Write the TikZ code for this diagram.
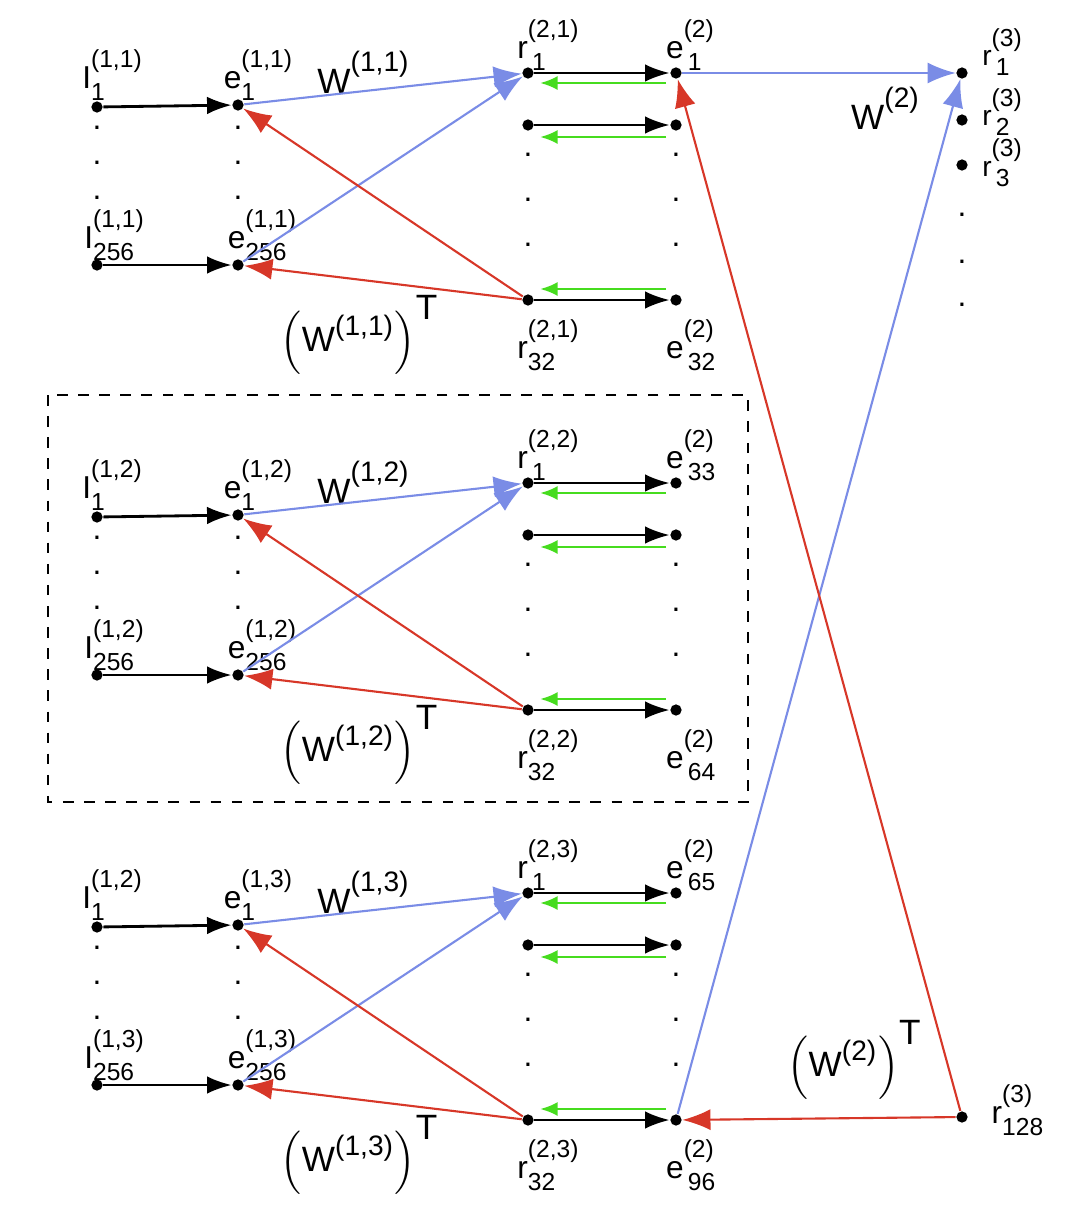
\documentclass[tikz,border=0pt]{standalone}
\usepackage{fontspec}
\setmainfont{Liberation Sans}
\usetikzlibrary{arrows.meta}
\definecolor{wblue}{RGB}{122,140,230}
\definecolor{wred}{RGB}{215,55,40}
\definecolor{wgreen}{RGB}{70,220,30}
\newcommand{\lbl}[3]{#1\makebox[0pt][l]{\raisebox{-0.7ex}{\scriptsize#2}}\raisebox{1.3ex}{\scriptsize#3}}
\newcommand{\wT}[1]{$\Bigl(\mbox{\normalsize W}^{\mbox{\footnotesize#1}}\Bigr)^{\mbox{\normalsize T}}$}

\begin{document}
\begin{tikzpicture}[x=0.01cm,y=-0.01cm,
    dot/.style={circle,fill=black,inner sep=0pt,minimum size=3.2pt},
    txt/.style={inner sep=0pt,font=\small},
    karrow/.style={-{Latex[length=7pt,width=5pt]},thick},
    barrow/.style={-{Latex[length=8pt,width=6pt]},wblue,semithick},
    rarrow/.style={-{Latex[length=8pt,width=6pt]},wred,semithick},
    garrow/.style={-{Latex[length=5pt,width=4pt]},wgreen,thick}]
    \useasboundingbox (0,0) rectangle (1080,1212);

    % three input blocks
    \foreach \b/\oy/\s/\si/\ea/\eb in {1/0/{(1,1)}/{(1,1)}/1/32, 2/410/{(1,2)}/{(1,2)}/33/64, 3/820/{(1,3)}/{(1,2)}/65/96} {
        \node[dot] (ia\b) at (97,107+\oy) {};
        \node[dot] (ib\b) at (97,265+\oy) {};
        \node[dot] (xa\b) at (238,105+\oy) {};
        \node[dot] (xb\b) at (238,265+\oy) {};
        \node[dot] (ra\b) at (528,73+\oy) {};
        \node[dot] (ea\b) at (676,73+\oy) {};
        \node[dot] (rm\b) at (528,125+\oy) {};
        \node[dot] (em\b) at (676,125+\oy) {};
        \node[dot] (rb\b) at (528,300+\oy) {};
        \node[dot] (eb\b) at (676,300+\oy) {};
        \foreach \y in {128,163,198} {
            \node[txt] at (97,\y+\oy) {.};
            \node[txt] at (238,\y+\oy) {.};
        }
        \foreach \y in {155,200,245} {
            \node[txt] at (528,\y+\oy) {.};
            \node[txt] at (676,\y+\oy) {.};
        }
        \node[txt] (lia\b) at (112,75+\oy) {\lbl{I}{1}{\si}};
        \node[txt] (lib\b) at (114,235+\oy) {\lbl{I}{256}{\s}};
        \node[txt] (lxa\b) at (258,75+\oy) {\lbl{e}{1}{\s}};
        \node[txt] (lxb\b) at (262,235+\oy) {\lbl{e}{256}{\s}};
        \node[txt] (lra\b) at (548,45+\oy) {\lbl{r}{\,1}{(2,\b)}};
        \node[txt] (lea\b) at (690,45+\oy) {\lbl{e}{\,\ea}{(2)}};
        \node[txt] (lrb\b) at (548,345+\oy) {\lbl{r}{32}{(2,\b)}};
        \node[txt] (leb\b) at (690,345+\oy) {\lbl{e}{\,\eb}{(2)}};
        \node[txt,font=\normalsize] (lw\b) at (363,72+\oy) {W\raisebox{1.2ex}{\footnotesize\s}};
        \node[txt] (lwt\b) at (360,335+\oy) {\wT{\s}};

        \draw[karrow] (ia\b) -- (xa\b);
        \draw[karrow] (ib\b) -- (xb\b);
        \draw[barrow] (xa\b) -- (ra\b);
        \draw[barrow] (xb\b) -- (ra\b);
        \draw[rarrow] (rb\b) -- (xa\b);
        \draw[rarrow] (rb\b) -- (xb\b);
        \draw[karrow] (ra\b) -- (ea\b);
        \draw[karrow] (rm\b) -- (em\b);
        \draw[karrow] (rb\b) -- (eb\b);
        \draw[garrow] ([shift={(-10,10)}]ea\b.center) -- ([shift={(12,10)}]ra\b.center);
        \draw[garrow] ([shift={(-10,12)}]em\b.center) -- ([shift={(12,12)}]rm\b.center);
        \draw[garrow] ([shift={(-10,-11)}]eb\b.center) -- ([shift={(12,-11)}]rb\b.center);
    }

    % dashed frame round the middle block
    \draw[dashed] (48,395) rectangle (748,802);

    % output layer
    \node[dot] (oa) at (962,73) {};
    \node[dot] (ob) at (962,120) {};
    \node[dot] (oc) at (962,165) {};
    \node[dot] (oz) at (962,1117) {};
    \foreach \y in {215,262,305}
        \node[txt] at (962,\y) {.};
    \node[txt,font=\footnotesize] (loa) at (1002,52) {\lbl{r}{\,1}{(3)}};
    \node[txt,font=\footnotesize] (lob) at (1002,112) {\lbl{r}{\,2}{(3)}};
    \node[txt,font=\footnotesize] (loc) at (1002,163) {\lbl{r}{\,3}{(3)}};
    \node[txt] (loz) at (1012,1110) {\lbl{r}{128}{(3)}};
    \node[txt,font=\normalsize] (lw2) at (885,108) {W\raisebox{1.2ex}{\footnotesize(2)}};
    \node[txt] (lw2t) at (855,1060) {\wT{(2)}};

    \draw[barrow] (ea1) -- (oa);
    \draw[barrow] (eb3) -- (oa);
    \draw[rarrow] (oz) -- (eb3);
    \draw[rarrow] (oz) -- (ea1);
\end{tikzpicture}
\end{document}
